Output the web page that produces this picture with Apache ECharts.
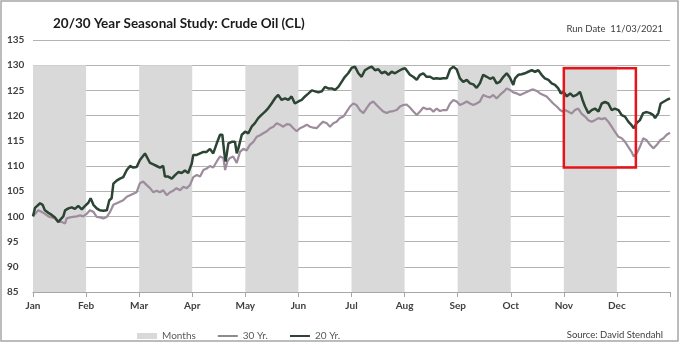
<!DOCTYPE html>
<html>
<head>
<meta charset="utf-8">
<script src="https://cdn.jsdelivr.net/npm/echarts@6/dist/echarts.min.js"></script>
<style>
  html, body { margin: 0; padding: 0; background: #ffffff; }
  #chart { width: 680px; height: 345px; }
</style>
</head>
<body>
<div id="chart"></div>
<script>
// Month names for the x axis; one month = 21 trading days
const monthLabels = ['Jan', 'Feb', 'Mar', 'Apr', 'May', 'Jun', 'Jul', 'Aug', 'Sep', 'Oct', 'Nov', 'Dec'];
const daysPerMonth = 21;

// Shaded alternate months [startDay, endDay]
const monthBands = [[0, 21], [42, 63], [84, 105], [126, 147], [168, 189], [210, 231]];
const bandTop = 130;

// Highlight box around the Nov–mid Dec seasonal dip: [startDay, topValue, endDay, bottomValue]
const highlightBox = [210, 129.4, 238.5, 109.7];

// 30-year seasonal pattern, indexed to 100 at year start: [tradingDay, index]
const yr30 = [
  [0,100.0],[0.8,100.5],[2.1,101.2],[3.4,100.9],[4.7,100.5],[6.1,100.0],[7.4,99.8],[8.7,99.6],
  [10.0,98.9],[11.4,98.9],[12.7,98.6],[13.3,99.6],[14.6,99.8],[15.9,99.9],[17.3,100.0],[18.6,100.2],
  [19.9,100.0],[21.2,100.5],[22.5,101.2],[23.9,100.9],[25.2,99.9],[26.5,99.8],[27.8,99.6],[29.2,99.9],
  [30.5,100.9],[31.8,102.3],[33.1,102.6],[34.4,102.9],[35.7,103.2],[37.1,103.9],[38.4,104.2],[39.7,104.5],
  [41.0,104.8],[42.3,106.6],[43.6,106.9],[45.0,106.2],[46.3,105.6],[47.6,104.8],[48.9,105.1],[50.2,104.8],
  [51.5,105.2],[52.9,104.2],[54.2,104.8],[55.5,105.1],[56.8,105.6],[58.2,105.2],[59.5,105.9],[60.8,105.6],
  [62.1,106.2],[63.4,107.8],[64.8,108.2],[66.1,107.9],[67.4,109.2],[68.7,109.5],[70.0,110.0],[71.3,109.7],
  [72.7,110.9],[74.0,111.9],[75.3,111.6],[76.0,109.2],[76.9,110.9],[77.9,111.6],[79.2,111.9],[80.6,110.6],
  [81.9,112.8],[83.2,113.4],[84.5,113.1],[85.8,114.2],[87.2,114.8],[88.5,115.8],[89.8,116.1],[91.1,116.5],
  [92.5,116.9],[93.8,117.5],[95.1,117.8],[96.4,118.5],[97.7,118.2],[99.0,117.8],[100.4,118.3],[101.7,118.2],
  [103.0,117.5],[104.3,116.9],[105.6,117.5],[106.9,117.8],[108.3,118.2],[109.6,117.8],[110.9,117.6],[112.2,117.5],
  [113.5,118.2],[114.8,118.8],[116.2,118.5],[117.5,117.8],[118.8,118.5],[120.1,118.8],[121.4,119.5],[122.8,119.8],
  [124.1,120.8],[125.4,121.8],[126.7,122.4],[128.0,122.1],[129.3,121.1],[130.7,120.5],[132.0,121.5],[133.3,122.4],
  [134.6,122.8],[135.9,122.1],[137.3,121.4],[138.6,120.8],[139.9,120.5],[141.2,120.8],[142.5,120.9],[143.9,121.1],
  [145.2,121.8],[146.5,122.1],[147.8,122.2],[149.1,121.6],[150.5,120.8],[151.8,120.1],[153.1,120.8],[154.4,121.6],
  [155.7,121.3],[157.1,121.4],[158.4,120.8],[159.7,121.4],[161.0,120.9],[162.3,121.1],[163.7,121.1],[165.0,122.4],
  [166.3,123.1],[167.6,122.8],[168.9,122.1],[170.2,122.4],[171.6,122.8],[172.9,122.4],[174.2,122.1],[175.5,122.4],
  [176.8,122.8],[178.1,124.1],[179.5,123.8],[180.8,123.6],[182.1,124.1],[183.4,123.4],[184.7,124.1],[186.1,124.7],
  [187.4,125.4],[188.7,125.1],[190.0,124.6],[191.4,124.4],[192.7,124.1],[194.0,124.4],[195.3,124.7],[196.6,125.0],
  [197.9,125.2],[199.3,124.9],[200.6,124.4],[201.9,124.1],[203.2,123.8],[204.5,123.1],[205.8,122.4],[207.2,121.8],
  [208.5,121.1],[209.5,120.8],[210.4,121.1],[211.7,120.8],[213.1,120.4],[214.4,121.1],[215.7,121.4],[217.0,120.4],
  [218.4,119.8],[219.7,119.1],[221.0,118.8],[222.3,119.1],[223.7,119.5],[225.0,119.3],[226.3,119.5],[227.6,118.8],
  [228.9,117.8],[230.2,116.8],[231.6,115.8],[232.9,115.5],[234.2,114.8],[235.5,113.8],[236.8,112.8],[237.7,111.9],
  [238.8,112.5],[240.1,113.8],[241.4,115.5],[242.8,115.1],[244.1,114.2],[245.4,113.5],[246.8,114.2],[248.1,115.1],
  [249.4,115.5],[250.7,116.2],[252.0,116.6]
];

// 20-year seasonal pattern, indexed to 100 at year start: [tradingDay, index]
const yr20 = [
  [0,100.0],[0.8,101.7],[2.8,102.6],[3.8,102.3],[4.7,101.2],[6.1,100.7],[7.4,100.3],[8.7,99.8],
  [10.0,98.9],[10.7,99.2],[12.0,100.0],[12.7,101.2],[14.0,101.6],[15.3,101.8],[16.6,101.5],[17.9,102.1],
  [19.3,101.4],[20.6,102.1],[21.9,102.7],[22.8,103.6],[23.9,102.3],[25.2,101.6],[26.5,101.2],[27.8,101.1],
  [29.2,101.2],[30.2,103.2],[31.1,103.6],[31.8,106.5],[33.1,107.1],[34.4,107.5],[35.7,107.8],[37.1,109.2],
  [38.4,110.0],[39.7,109.7],[41.0,109.8],[42.3,111.2],[44.3,112.5],[45.0,112.2],[46.3,110.6],[47.6,110.3],
  [48.9,110.0],[50.2,109.7],[51.5,110.0],[52.2,107.9],[53.5,107.9],[54.9,107.5],[56.2,108.2],[57.5,108.8],
  [58.8,108.6],[60.1,109.1],[61.4,108.6],[62.8,110.5],[63.4,112.2],[64.8,112.2],[66.1,112.5],[67.4,112.8],
  [68.7,112.8],[70.0,113.4],[71.3,112.5],[72.7,114.5],[74.0,116.2],[74.9,116.2],[75.7,112.5],[76.2,110.9],
  [77.3,114.5],[78.6,114.8],[79.9,114.8],[80.6,112.5],[81.2,113.4],[82.6,116.2],[83.9,116.8],[85.2,116.5],
  [86.5,117.8],[87.8,118.5],[89.1,119.5],[90.5,120.2],[91.8,120.8],[93.1,121.5],[94.4,122.4],[95.7,123.4],
  [97.0,124.1],[98.4,123.1],[99.7,123.4],[101.0,123.1],[102.3,123.8],[103.6,122.4],[105.0,122.8],[106.3,123.1],
  [107.6,123.8],[109.0,124.4],[110.3,125.0],[111.6,124.8],[112.9,124.6],[114.2,124.8],[115.5,125.7],[116.8,125.4],
  [118.2,125.4],[119.5,125.1],[120.8,125.7],[122.1,126.7],[123.4,127.7],[124.7,128.4],[126.1,129.5],[127.4,129.7],
  [128.7,128.4],[130.0,127.7],[131.3,129.0],[132.6,129.4],[134.0,129.7],[135.3,129.0],[136.6,129.2],[137.9,128.4],
  [139.3,128.7],[140.6,128.1],[141.9,128.7],[143.2,128.4],[144.5,128.8],[145.9,129.2],[147.2,129.4],[147.8,129.0],
  [149.1,128.1],[150.4,127.7],[151.8,127.1],[153.1,128.1],[154.4,128.4],[155.7,127.7],[157.1,127.7],[158.4,127.3],
  [159.7,127.4],[161.0,127.3],[162.3,127.4],[163.7,127.4],[165.0,129.2],[166.3,129.7],[167.6,129.2],[168.9,127.4],
  [170.2,126.7],[171.6,127.1],[172.9,126.4],[174.2,126.2],[175.5,125.5],[176.8,126.4],[178.1,128.1],[179.5,127.7],
  [180.8,127.3],[182.1,127.6],[183.4,126.4],[184.7,126.7],[186.1,127.7],[187.4,128.4],[188.7,127.5],[190.0,126.1],
  [190.7,127.4],[192.0,128.1],[193.3,128.2],[194.6,128.4],[195.9,128.7],[197.3,129.0],[198.6,128.7],[199.9,129.0],
  [201.2,128.1],[202.5,127.4],[203.9,127.1],[205.2,126.4],[206.5,126.1],[207.8,125.4],[208.8,124.4],[209.9,124.7],
  [211.2,123.8],[212.5,124.4],[213.7,123.8],[215.1,124.1],[216.4,124.7],[217.4,123.1],[218.4,121.8],[219.7,120.5],
  [221.0,121.1],[222.3,121.4],[223.7,120.8],[225.0,122.4],[226.3,122.7],[227.6,122.4],[228.9,121.1],[230.2,121.4],
  [231.6,121.1],[232.9,120.1],[234.2,119.8],[235.5,118.8],[236.8,118.1],[237.7,117.5],[238.8,118.5],[240.1,119.1],
  [241.4,120.5],[242.8,120.7],[244.1,120.5],[245.4,120.1],[246.1,119.5],[247.4,120.5],[248.3,122.4],[249.3,122.7],
  [250.7,123.1],[252.0,123.4]
];

const yMin = 85, yMax = 135, yStep = 5;
const font = 'Lato, "Open Sans", sans-serif';
const col30 = '#9c8c9c';
const col20 = '#2b4433';

const chart = echarts.init(document.getElementById('chart'), null, { renderer: 'canvas' });

chart.setOption({
  animation: false,
  backgroundColor: '#ffffff',
  textStyle: { fontFamily: font },
  title: [
    {
      text: '20/30 Year Seasonal Study: Crude Oil (CL)',
      left: 48, top: 12,
      textStyle: { fontFamily: font, fontWeight: 'bold', fontSize: 13.5, color: '#1a1a1a' }
    },
    {
      text: 'Run Date  11/03/2021',
      right: 12, top: 19,
      textStyle: { fontFamily: font, fontWeight: 'normal', fontSize: 9.5, color: '#404040' }
    },
    {
      text: 'Source: David Stendahl',
      right: 12, top: 325,
      textStyle: { fontFamily: font, fontWeight: 'normal', fontSize: 9.5, color: '#404040' }
    }
  ],
  graphic: [
    {
      type: 'rect',
      shape: { x: 1, y: 1, width: 677, height: 340 },
      style: { fill: null, stroke: '#a6a6a6', lineWidth: 1.5 },
      silent: true
    }
  ],
  legend: {
    left: 132, top: 326,
    itemWidth: 20, itemHeight: 6, itemGap: 21,
    textStyle: { fontFamily: font, fontSize: 10, color: '#595959' },
    data: [
      { name: 'Months', icon: 'rect' },
      { name: '30 Yr.', itemStyle: { opacity: 0 }, lineStyle: { color: '#8c8c8c', width: 2 } },
      { name: '20 Yr.', itemStyle: { opacity: 0 }, lineStyle: { color: col20, width: 2 } }
    ]
  },
  grid: { left: 33, right: 10, top: 40, bottom: 53 },
  xAxis: {
    type: 'value',
    min: 0, max: daysPerMonth * 12, interval: daysPerMonth,
    axisLine: { show: true, lineStyle: { color: '#a6a6a6', width: 1 } },
    axisTick: { show: true, length: 5, lineStyle: { color: '#a6a6a6' } },
    splitLine: { show: false },
    axisLabel: {
      margin: 9,
      fontFamily: font, fontWeight: 'bold', fontSize: 10, color: '#404040',
      formatter: v => monthLabels[Math.round(v / daysPerMonth)] || ''
    }
  },
  yAxis: {
    type: 'value',
    min: yMin, max: yMax, interval: yStep,
    axisLine: { show: false },
    axisTick: { show: false },
    splitLine: { lineStyle: { color: '#b3b3b3', width: 1 } },
    axisLabel: {
      align: 'left', margin: 26,
      fontFamily: font, fontWeight: 'bold', fontSize: 10, color: '#404040'
    }
  },
  series: [
    {
      name: 'Months',
      type: 'custom',
      z: 1,
      silent: true,
      itemStyle: { color: '#d9d9d9' },
      data: monthBands.map(b => [b[0], b[1], bandTop]),
      encode: { x: [0, 1], y: 2 },
      renderItem: (params, api) => {
        const p0 = api.coord([api.value(0), api.value(2)]);
        const p1 = api.coord([api.value(1), yMin]);
        return {
          type: 'rect',
          shape: { x: p0[0], y: p0[1], width: p1[0] - p0[0], height: p1[1] - p0[1] },
          style: { fill: '#d9d9d9' }
        };
      }
    },
    {
      name: '30 Yr.',
      type: 'line',
      z: 3,
      symbol: 'none',
      data: yr30,
      itemStyle: { color: col30 },
      lineStyle: { color: col30, width: 2.2 }
    },
    {
      name: '20 Yr.',
      type: 'line',
      z: 4,
      symbol: 'none',
      data: yr20,
      itemStyle: { color: col20 },
      lineStyle: { color: col20, width: 2.5 }
    },
    {
      name: 'highlight',
      type: 'custom',
      z: 10,
      silent: true,
      data: [highlightBox],
      encode: { x: [0, 2], y: [1, 3] },
      renderItem: (params, api) => {
        const a = api.coord([api.value(0), api.value(1)]);
        const b = api.coord([api.value(2), api.value(3)]);
        return {
          type: 'rect',
          shape: { x: a[0], y: a[1], width: b[0] - a[0], height: b[1] - a[1] },
          style: { fill: null, stroke: '#e8141b', lineWidth: 2.5 }
        };
      }
    }
  ]
});
</script>
</body>
</html>
